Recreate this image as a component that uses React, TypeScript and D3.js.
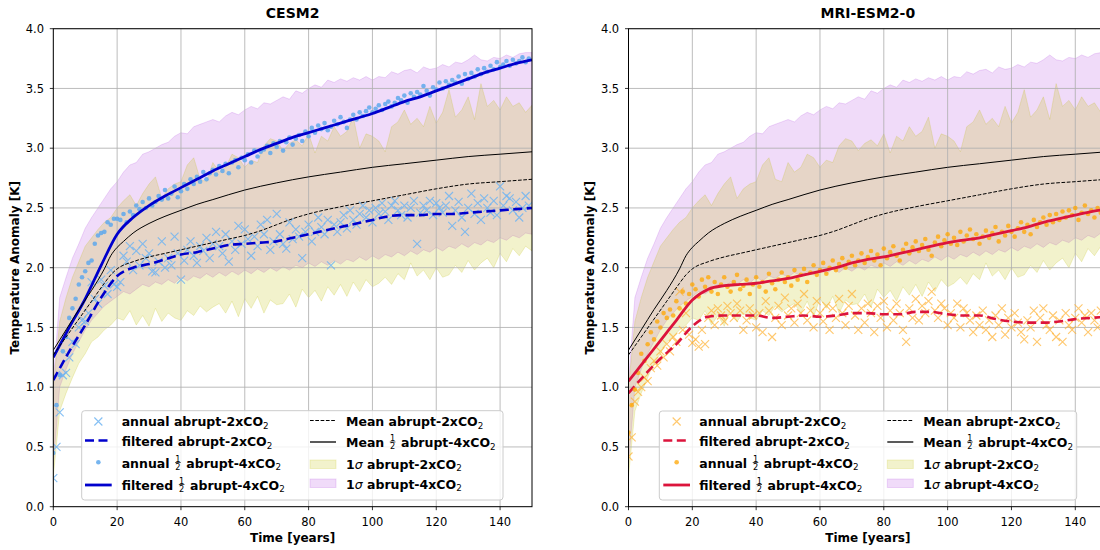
import React, { useEffect, useRef } from "react";
import * as d3 from "d3";

// ---------- time axes ----------
const annualYears = d3.range(0, 150);
const bandYears = d3.range(0, 151, 2);
const filterYears = d3.range(0, 151, 5);

// ---------- multi-model statistics (shared by both panels) ----------
const mean4xYears = [0, 4, 8, 12, 16, 18, 20, 22, 25, 30, 35, 40, 45, 50, 60, 70, 80, 90, 100, 110, 120, 130, 140, 150];
const mean4xValues = [1.31, 1.48, 1.65, 1.81, 1.99, 2.1, 2.17, 2.22, 2.29, 2.37, 2.43, 2.48, 2.53, 2.57, 2.65, 2.71, 2.76, 2.8, 2.84, 2.87, 2.9, 2.93, 2.95, 2.97];

const mean2xYears = [0, 4, 8, 12, 16, 18, 20, 25, 30, 35, 40, 45, 50, 55, 60, 65, 70, 75, 80, 90, 100, 110, 120, 130, 140, 150];
const mean2xValues = [1.27, 1.42, 1.57, 1.72, 1.87, 1.94, 1.99, 2.05, 2.09, 2.12, 2.15, 2.18, 2.21, 2.24, 2.27, 2.31, 2.36, 2.41, 2.45, 2.51, 2.56, 2.61, 2.66, 2.7, 2.72, 2.74];

const sigma4xUpper = [
  1.05, 1.75, 1.92, 2.08, 2.2, 2.33, 2.42, 2.5, 2.58, 2.66,
  2.72, 2.8, 2.86, 2.88, 2.95, 2.97, 3.0, 3.03, 3.05, 3.1,
  3.13, 3.12, 3.18, 3.2, 3.22, 3.24, 3.22, 3.27, 3.3, 3.28,
  3.32, 3.35, 3.33, 3.38, 3.37, 3.4, 3.43, 3.41, 3.48, 3.46,
  3.5, 3.53, 3.51, 3.57, 3.55, 3.58, 3.56, 3.59, 3.57, 3.6,
  3.57, 3.6, 3.59, 3.64, 3.62, 3.65, 3.66, 3.63, 3.68, 3.66,
  3.67, 3.7, 3.68, 3.72, 3.71, 3.74, 3.78, 3.74, 3.73, 3.76,
  3.75, 3.78, 3.76, 3.79, 3.8, 3.8,
];
const sigma4xLower = [
  0.35, 1.0, 1.15, 1.28, 1.38, 1.48, 1.56, 1.62, 1.68, 1.72,
  1.76, 1.8, 1.78, 1.82, 1.86, 1.84, 1.88, 1.86, 1.9, 1.87,
  1.92, 1.89, 1.93, 1.91, 1.95, 1.92, 1.96, 1.93, 1.97, 1.94,
  1.98, 1.95, 1.99, 1.96, 2.0, 1.97, 2.01, 1.98, 2.02, 2.0,
  2.04, 2.01, 2.05, 2.02, 2.06, 2.03, 2.07, 2.05, 2.09, 2.06,
  2.1, 2.07, 2.11, 2.09, 2.13, 2.1, 2.14, 2.11, 2.15, 2.13,
  2.17, 2.14, 2.18, 2.16, 2.2, 2.17, 2.21, 2.19, 2.23, 2.21,
  2.25, 2.23, 2.27, 2.25, 2.29, 2.28,
];
const sigma2xUpper = [
  1.0, 1.55, 1.75, 1.92, 2.05, 2.18, 2.25, 2.32, 2.38, 2.42,
  2.5, 2.56, 2.61, 2.52, 2.62, 2.7, 2.76, 2.58, 2.66, 2.7,
  2.72, 2.86, 2.92, 2.74, 2.72, 2.88, 2.8, 2.84, 2.95, 2.92,
  2.84, 2.9, 2.88, 3.02, 3.08, 3.06, 2.98, 3.04, 3.07, 3.02,
  3.12, 2.96, 3.1, 3.06, 3.18, 3.1, 3.14, 3.26, 3.0, 3.12,
  3.1, 3.06, 2.97, 3.18, 3.22, 3.32, 3.2, 3.25, 3.18, 3.35,
  3.21, 3.3, 3.49, 3.26, 3.32, 3.43, 3.24, 3.54, 3.35, 3.4,
  3.32, 3.43, 3.35, 3.38, 3.3, 3.36,
];
const sigma2xLower = [
  0.25, 0.8, 0.95, 1.08, 1.2, 1.28, 1.38, 1.42, 1.48, 1.52,
  1.58, 1.56, 1.64, 1.52, 1.6, 1.51, 1.66, 1.55, 1.62, 1.58,
  1.56, 1.64, 1.6, 1.68, 1.63, 1.67, 1.7, 1.62, 1.72, 1.59,
  1.74, 1.66, 1.76, 1.62, 1.73, 1.69, 1.7, 1.78, 1.67, 1.82,
  1.75, 1.81, 1.72, 1.84, 1.77, 1.86, 1.76, 1.88, 1.8, 1.9,
  1.84, 1.87, 1.92, 1.86, 1.95, 1.9, 2.04, 1.93, 1.98, 1.9,
  2.0, 1.92, 1.94, 2.02, 1.96, 2.06, 1.98, 2.04, 2.08, 2.0,
  2.12, 2.05, 2.16, 2.1, 2.18, 2.14,
];

// ---------- CESM2 ----------
const cesmFiltered4x = [1.25, 1.5, 1.74, 2.02, 2.28, 2.42, 2.52, 2.6, 2.67, 2.74, 2.81, 2.87, 2.93, 2.99, 3.04, 3.09, 3.13, 3.17, 3.21, 3.25, 3.29, 3.34, 3.39, 3.43, 3.48, 3.53, 3.58, 3.63, 3.67, 3.71, 3.74];
const cesmFiltered2x = [1.06, 1.3, 1.52, 1.75, 1.93, 2.0, 2.03, 2.07, 2.11, 2.13, 2.16, 2.19, 2.2, 2.21, 2.22, 2.25, 2.28, 2.31, 2.34, 2.37, 2.4, 2.43, 2.44, 2.44, 2.45, 2.45, 2.46, 2.47, 2.48, 2.49, 2.5];
const cesmAnnual4x = [
  0.45, 0.85, 1.1, 1.3, 1.42, 1.58, 1.66, 1.74, 1.86, 1.92,
  1.97, 2.04, 2.06, 2.2, 2.27, 2.29, 2.3, 2.38, 2.36, 2.41,
  2.41, 2.4, 2.45, 2.38, 2.47, 2.44, 2.52, 2.49, 2.55, 2.5,
  2.58, 2.52, 2.55, 2.6, 2.57, 2.65, 2.58, 2.62, 2.68, 2.59,
  2.64, 2.7, 2.66, 2.74, 2.7, 2.76, 2.72, 2.8, 2.74, 2.79,
  2.82, 2.78, 2.85, 2.81, 2.87, 2.79, 2.88, 2.9, 2.84, 2.92,
  2.9, 2.95, 2.88, 2.98, 2.93, 2.97, 2.99, 3.02, 2.96, 3.04,
  3.01, 3.06, 2.98, 3.05, 3.09, 3.03, 3.08, 3.11, 3.06, 3.14,
  3.1, 3.17, 3.13, 3.19, 3.16, 3.21, 3.15, 3.18, 3.23, 3.2,
  3.26, 3.22, 3.17, 3.24, 3.28, 3.24, 3.3, 3.27, 3.31, 3.34,
  3.3, 3.33, 3.36, 3.32, 3.37, 3.39, 3.35, 3.38, 3.42, 3.4,
  3.44, 3.38, 3.46, 3.43, 3.47, 3.45, 3.52, 3.48, 3.44, 3.51,
  3.49, 3.55, 3.5, 3.56, 3.53, 3.57, 3.55, 3.6, 3.54, 3.62,
  3.58, 3.63, 3.6, 3.66, 3.62, 3.67, 3.64, 3.69, 3.66, 3.72,
  3.68, 3.7, 3.73, 3.69, 3.74, 3.71, 3.73, 3.76, 3.72, 3.75,
];
const cesmAnnual2x = [
  0.24, 0.5, 0.79, 1.1, 1.12, 1.25, 1.38, 1.36, 1.5, 1.56,
  1.55, 1.62, 1.88, 1.74, 1.7, 1.9, 1.85, 1.78, 1.98, 1.86,
  1.84, 1.88, 2.1, 2.05, 2.18, 1.98, 2.14, 2.02, 2.2, 2.08,
  2.12, 1.97, 1.96, 2.05, 2.22, 2.0, 2.08, 2.02, 2.26, 2.12,
  1.9, 2.06, 2.15, 2.22, 2.1, 2.04, 2.18, 2.14, 2.25, 2.08,
  2.2, 2.3, 2.18, 2.12, 2.28, 2.05, 2.22, 2.15, 2.35, 2.2,
  2.32, 2.24, 2.1, 2.26, 2.18, 2.36, 2.28, 2.4, 2.15, 2.22,
  2.45, 2.28, 2.2, 2.16, 2.38, 2.24, 2.32, 2.26, 2.08, 2.3,
  2.36, 2.22, 2.3, 2.42, 2.34, 2.28, 2.4, 2.02, 2.36, 2.3,
  2.38, 2.44, 2.33, 2.48, 2.4, 2.36, 2.45, 2.52, 2.42, 2.48,
  2.38, 2.5, 2.45, 2.54, 2.47, 2.4, 2.52, 2.56, 2.48, 2.44,
  2.52, 2.42, 2.5, 2.56, 2.2, 2.46, 2.52, 2.48, 2.56, 2.44,
  2.54, 2.5, 2.46, 2.52, 2.6, 2.35, 2.48, 2.55, 2.42, 2.3,
  2.5, 2.62, 2.45, 2.54, 2.4, 2.58, 2.5, 2.46, 2.56, 2.44,
  2.68, 2.52, 2.6, 2.58, 2.48, 2.55, 2.42, 2.5, 2.6, 2.52,
];

// ---------- MRI-ESM2-0 ----------
const mriFiltered4x = [1.05, 1.22, 1.39, 1.56, 1.73, 1.82, 1.85, 1.86, 1.87, 1.89, 1.91, 1.94, 1.97, 2.0, 2.04, 2.07, 2.09, 2.12, 2.15, 2.18, 2.21, 2.23, 2.25, 2.28, 2.31, 2.34, 2.38, 2.41, 2.44, 2.47, 2.49];
const mriFiltered2x = [0.95, 1.1, 1.24, 1.36, 1.51, 1.59, 1.6, 1.6, 1.6, 1.58, 1.59, 1.6, 1.59, 1.6, 1.62, 1.62, 1.61, 1.61, 1.63, 1.63, 1.61, 1.6, 1.6, 1.57, 1.55, 1.54, 1.54, 1.55, 1.57, 1.58, 1.59];
const mriAnnual4x = [
  0.62, 0.85, 0.98, 1.12, 1.28, 1.22, 1.36, 1.46, 1.4, 1.55,
  1.5, 1.62, 1.58, 1.65, 1.6, 1.72, 1.66, 1.8, 1.7, 1.78,
  1.86, 1.82, 1.76, 1.9, 1.84, 1.92, 1.8, 1.88, 1.78, 1.86,
  1.92, 1.84, 1.8, 1.88, 1.94, 1.82, 1.85, 1.9, 1.78, 1.86,
  1.92, 1.84, 1.88, 1.8, 1.95, 1.87, 1.82, 1.9, 1.96, 1.88,
  1.92, 1.85, 1.98, 1.9, 1.94, 1.99, 1.88, 1.96, 2.02, 1.94,
  1.98, 2.04, 1.95, 2.0, 2.06, 1.98, 2.03, 2.08, 2.0, 2.05,
  2.1, 2.02, 2.06, 2.12, 2.04, 2.09, 2.14, 2.06, 2.11, 2.02,
  2.16, 2.08, 2.13, 2.18, 2.1, 2.06, 2.15, 2.2, 2.12, 2.17,
  2.22, 2.14, 2.19, 2.24, 2.15, 2.1, 2.21, 2.26, 2.18, 2.23,
  2.28, 2.2, 2.25, 2.19, 2.3, 2.22, 2.27, 2.32, 2.24, 2.28,
  2.2, 2.26, 2.31, 2.25, 2.29, 2.34, 2.22, 2.3, 2.27, 2.35,
  2.3, 2.26, 2.33, 2.38, 2.3, 2.36, 2.28, 2.4, 2.34, 2.38,
  2.42, 2.36, 2.44, 2.38, 2.45, 2.4, 2.47, 2.42, 2.48, 2.44,
  2.5, 2.4, 2.46, 2.52, 2.45, 2.48, 2.42, 2.5, 2.46, 2.52,
];
const mriAnnual2x = [
  0.42, 0.58, 0.88, 0.96, 1.0, 1.08, 1.05, 1.16, 1.22, 1.18,
  1.3, 1.25, 1.36, 1.3, 1.42, 1.38, 1.8, 1.48, 1.62, 1.44,
  1.37, 1.4, 1.34, 1.48, 1.36, 1.58, 1.64, 1.52, 1.66, 1.6,
  1.55, 1.68, 1.62, 1.58, 1.7, 1.64, 1.48, 1.56, 1.66, 1.6,
  1.5, 1.62, 1.46, 1.72, 1.64, 1.42, 1.58, 1.68, 1.52, 1.75,
  1.6, 1.66, 1.54, 1.7, 1.62, 1.78, 1.56, 1.64, 1.5, 1.72,
  1.62, 1.55, 1.68, 1.48, 1.66, 1.58, 1.74, 1.62, 1.52, 1.68,
  1.78, 1.6, 1.48, 1.66, 1.54, 1.7, 1.62, 1.46, 1.68, 1.58,
  1.72, 1.5, 1.64, 1.56, 1.7, 1.62, 1.48, 1.38, 1.66, 1.58,
  1.74, 1.56, 1.68, 1.62, 1.72, 1.8, 1.64, 1.58, 1.7, 1.66,
  1.52, 1.62, 1.58, 1.7, 1.5, 1.66, 1.62, 1.56, 1.46, 1.6,
  1.52, 1.64, 1.48, 1.56, 1.42, 1.6, 1.52, 1.66, 1.44, 1.58,
  1.5, 1.62, 1.54, 1.46, 1.4, 1.56, 1.5, 1.64, 1.38, 1.58,
  1.66, 1.52, 1.48, 1.6, 1.42, 1.56, 1.38, 1.62, 1.52, 1.48,
  1.58, 1.66, 1.54, 1.6, 1.46, 1.62, 1.56, 1.5, 1.64, 1.58,
];

// ---------- styling ----------
const PURPLE = "#9400d3";
const OLIVE = "#bfbf00";
const FONT = "'DejaVu Sans', sans-serif";

type Part = { k: "t" | "sub" | "frac" | "it"; s?: string };
const T = (s: string): Part => ({ k: "t", s });
const SUB = (s: string): Part => ({ k: "sub", s });
const FRAC: Part = { k: "frac" };
const IT = (s: string): Part => ({ k: "it", s });

const panels = [
  {
    title: "CESM2",
    x0: 53.3,
    lineColor: "#0000cd",
    pointColor: "#5ea8ec",
    pointOpacity: 0.85,
    crossColor: "#6fb4f2",
    crossOpacity: 0.85,
    annual2x: cesmAnnual2x,
    annual4x: cesmAnnual4x,
    filtered2x: cesmFiltered2x,
    filtered4x: cesmFiltered4x,
    legend: { box: [81.7, 410.7, 421.3, 89.3], c1: [85, 111.7, 121.7], c2: [310, 336, 346] },
  },
  {
    title: "MRI-ESM2-0",
    x0: 628.5,
    lineColor: "#dc143c",
    pointColor: "#ffa500",
    pointOpacity: 0.75,
    crossColor: "#ffb030",
    crossOpacity: 0.7,
    annual2x: mriAnnual2x,
    annual4x: mriAnnual4x,
    filtered2x: mriFiltered2x,
    filtered4x: mriFiltered4x,
    legend: { box: [659.3, 411, 417.4, 89], c1: [663.3, 690, 699.3], c2: [887.3, 913.3, 923.3] },
  },
];

const PLOT_W = 478.7;
const Y_TOP = 28.7;
const Y_BOT = 506.7;

function drawRich(g: any, x: number, baseline: number, parts: Part[], size: number) {
  let cx = x;
  const base = (sel: any) =>
    sel
      .attr("font-family", FONT)
      .attr("fill", "#000")
      .attr("xml:space", "preserve")
      .style("white-space", "pre");
  for (const p of parts) {
    if (p.k === "t") {
      const t = base(g.append("text")).attr("x", cx).attr("y", baseline).attr("font-size", size).attr("font-weight", "bold").text(p.s);
      cx += (t.node() as SVGTextElement).getComputedTextLength();
    } else if (p.k === "it") {
      const t = base(g.append("text")).attr("x", cx).attr("y", baseline).attr("font-size", size).attr("font-style", "italic").text(p.s);
      cx += (t.node() as SVGTextElement).getComputedTextLength();
    } else if (p.k === "sub") {
      const t = base(g.append("text")).attr("x", cx).attr("y", baseline + 2.6).attr("font-size", size * 0.7).text(p.s);
      cx += (t.node() as SVGTextElement).getComputedTextLength();
    } else {
      const fs = 8.2;
      const bar = baseline - 5;
      const w = 6;
      const mid = cx + 1 + w / 2;
      base(g.append("text")).attr("x", mid).attr("y", bar - 1).attr("font-size", fs).attr("text-anchor", "middle").text("1");
      base(g.append("text")).attr("x", mid).attr("y", bar + 7.3).attr("font-size", fs).attr("text-anchor", "middle").text("2");
      g.append("line").attr("x1", cx + 1.2).attr("x2", cx + 1 + w - 0.2).attr("y1", bar).attr("y2", bar).attr("stroke", "#000").attr("stroke-width", 0.7);
      cx += w + 2;
    }
  }
}

const CROSS = "M-4,-4L4,4M-4,4L4,-4";

export default function App() {
  const ref = useRef<SVGSVGElement>(null);

  useEffect(() => {
    const svg = d3.select(ref.current);
    svg.selectAll("*").remove();
    const defs = svg.append("defs");
    const y = d3.scaleLinear().domain([0, 4]).range([Y_BOT, Y_TOP]);

    panels.forEach((p, i) => {
      const x = d3.scaleLinear().domain([0, 150]).range([p.x0, p.x0 + PLOT_W]);
      const x1 = p.x0 + PLOT_W;
      const clipId = `plot-clip-${i}`;
      defs.append("clipPath").attr("id", clipId).append("rect").attr("x", p.x0).attr("y", Y_TOP).attr("width", PLOT_W).attr("height", Y_BOT - Y_TOP);

      const g = svg.append("g");
      const plot = g.append("g").attr("clip-path", `url(#${clipId})`);

      // 1-sigma bands
      const band = (lo: number[], hi: number[]) =>
        d3
          .area<number>()
          .x((t) => x(t))
          .y0((_, k) => y(lo[k]))
          .y1((_, k) => y(hi[k]))(bandYears);
      plot.append("path").attr("d", band(sigma4xLower, sigma4xUpper)).attr("fill", PURPLE).attr("fill-opacity", 0.14).attr("stroke", PURPLE).attr("stroke-opacity", 0.14).attr("stroke-width", 1);
      plot.append("path").attr("d", band(sigma2xLower, sigma2xUpper)).attr("fill", OLIVE).attr("fill-opacity", 0.2).attr("stroke", OLIVE).attr("stroke-opacity", 0.2).attr("stroke-width", 1);

      // grid
      const xt = x.ticks(8);
      const yt = y.ticks(8);
      plot.selectAll(".gx").data(xt).join("line").attr("x1", (d) => x(d)).attr("x2", (d) => x(d)).attr("y1", Y_TOP).attr("y2", Y_BOT).attr("stroke", "#b0b0b0").attr("stroke-width", 1).attr("stroke-opacity", 0.85);
      plot.selectAll(".gy").data(yt).join("line").attr("x1", p.x0).attr("x2", x1).attr("y1", (d) => y(d)).attr("y2", (d) => y(d)).attr("stroke", "#b0b0b0").attr("stroke-width", 1).attr("stroke-opacity", 0.85);

      const smooth = (years: number[], vals: number[]) =>
        d3
          .line<number>()
          .x((t) => x(t))
          .y((_, k) => y(vals[k]))
          .curve(d3.curveMonotoneX)(years);

      // annual 2xCO2 crosses
      plot.append("g").selectAll("path").data(p.annual2x).join("path")
        .attr("d", CROSS)
        .attr("transform", (v, k) => `translate(${x(annualYears[k])},${y(v)})`)
        .attr("stroke", p.crossColor).attr("stroke-opacity", p.crossOpacity).attr("stroke-width", 1.1).attr("fill", "none");

      // filtered 2xCO2
      plot.append("path").attr("d", smooth(filterYears, p.filtered2x)).attr("fill", "none").attr("stroke", p.lineColor).attr("stroke-width", 2.6).attr("stroke-dasharray", "9,4.5");

      // annual half 4xCO2 dots
      plot.append("g").selectAll("circle").data(p.annual4x).join("circle")
        .attr("cx", (_, k) => x(annualYears[k])).attr("cy", (v) => y(v)).attr("r", 2.3)
        .attr("fill", p.pointColor).attr("fill-opacity", p.pointOpacity);

      // filtered half 4xCO2
      plot.append("path").attr("d", smooth(filterYears, p.filtered4x)).attr("fill", "none").attr("stroke", p.lineColor).attr("stroke-width", 2.8);

      // multi-model means
      plot.append("path").attr("d", smooth(mean2xYears, mean2xValues)).attr("fill", "none").attr("stroke", "#000").attr("stroke-width", 1).attr("stroke-dasharray", "3.7,1.6");
      plot.append("path").attr("d", smooth(mean4xYears, mean4xValues)).attr("fill", "none").attr("stroke", "#000").attr("stroke-width", 1);

      // frame
      g.append("rect").attr("x", p.x0).attr("y", Y_TOP).attr("width", PLOT_W).attr("height", Y_BOT - Y_TOP).attr("fill", "none").attr("stroke", "#000").attr("stroke-width", 1);

      // ticks
      g.selectAll(".tx").data(xt).join("line").attr("x1", (d) => x(d)).attr("x2", (d) => x(d)).attr("y1", Y_BOT).attr("y2", Y_BOT + 3.5).attr("stroke", "#000").attr("stroke-width", 0.8);
      g.selectAll(".lx").data(xt).join("text").attr("x", (d) => x(d)).attr("y", Y_BOT + 18.8).attr("text-anchor", "middle").attr("font-family", FONT).attr("font-size", 11.5).attr("fill", "#000").text((d) => String(d));
      g.selectAll(".ty").data(yt).join("line").attr("x1", p.x0 - 3.5).attr("x2", p.x0).attr("y1", (d) => y(d)).attr("y2", (d) => y(d)).attr("stroke", "#000").attr("stroke-width", 0.8);
      g.selectAll(".ly").data(yt).join("text").attr("x", p.x0 - 9.3).attr("y", (d) => y(d) + 4.1).attr("text-anchor", "end").attr("font-family", FONT).attr("font-size", 11.5).attr("fill", "#000").text((d) => d.toFixed(1));

      // titles and axis labels
      const cxAxis = p.x0 + PLOT_W / 2;
      g.append("text").attr("x", cxAxis).attr("y", 17.5).attr("text-anchor", "middle").attr("font-family", FONT).attr("font-size", 14).attr("font-weight", "bold").text(p.title);
      g.append("text").attr("x", cxAxis).attr("y", 542).attr("text-anchor", "middle").attr("font-family", FONT).attr("font-size", 12).attr("font-weight", "bold").text("Time [years]");
      g.append("text")
        .attr("transform", `translate(${p.x0 - 34.8},${(Y_TOP + Y_BOT) / 2}) rotate(-90)`)
        .attr("text-anchor", "middle").attr("font-family", FONT).attr("font-size", 12).attr("font-weight", "bold")
        .text("Temperature Anomaly [K]");

      // legend
      const L = p.legend;
      const lg = g.append("g");
      lg.append("rect").attr("x", L.box[0]).attr("y", L.box[1]).attr("width", L.box[2]).attr("height", L.box[3]).attr("rx", 3)
        .attr("fill", "#fff").attr("fill-opacity", 0.8).attr("stroke", "#cccccc").attr("stroke-width", 1);
      const [a0, a1, at] = L.c1;
      const am = (a0 + a1) / 2;
      lg.append("path").attr("d", CROSS).attr("transform", `translate(${am},421.5)`).attr("stroke", p.crossColor).attr("stroke-opacity", p.crossOpacity).attr("stroke-width", 1.1).attr("fill", "none");
      lg.append("line").attr("x1", a0).attr("x2", a1).attr("y1", 440.5).attr("y2", 440.5).attr("stroke", p.lineColor).attr("stroke-width", 2.6).attr("stroke-dasharray", "9,4.5");
      lg.append("circle").attr("cx", am).attr("cy", 462.3).attr("r", 2.3).attr("fill", p.pointColor).attr("fill-opacity", p.pointOpacity);
      lg.append("line").attr("x1", a0).attr("x2", a1).attr("y1", 485).attr("y2", 485).attr("stroke", p.lineColor).attr("stroke-width", 2.8);
      const fs = 12.5;
      drawRich(lg, at, 426, [T("annual abrupt-2xCO"), SUB("2")], fs);
      drawRich(lg, at, 446, [T("filtered abrupt-2xCO"), SUB("2")], fs);
      drawRich(lg, at, 467.5, [T("annual "), FRAC, T(" abrupt-4xCO"), SUB("2")], fs);
      drawRich(lg, at, 489.5, [T("filtered "), FRAC, T(" abrupt-4xCO"), SUB("2")], fs);

      const [b0, b1, bt] = L.c2;
      lg.append("line").attr("x1", b0).attr("x2", b1).attr("y1", 420.5).attr("y2", 420.5).attr("stroke", "#000").attr("stroke-width", 1).attr("stroke-dasharray", "3.7,1.6");
      lg.append("line").attr("x1", b0).attr("x2", b1).attr("y1", 442).attr("y2", 442).attr("stroke", "#000").attr("stroke-width", 1.3);
      lg.append("rect").attr("x", b0).attr("y", 460).attr("width", b1 - b0).attr("height", 8.5).attr("fill", OLIVE).attr("fill-opacity", 0.2).attr("stroke", OLIVE).attr("stroke-opacity", 0.2);
      lg.append("rect").attr("x", b0).attr("y", 479).attr("width", b1 - b0).attr("height", 8.5).attr("fill", PURPLE).attr("fill-opacity", 0.14).attr("stroke", PURPLE).attr("stroke-opacity", 0.14);
      drawRich(lg, bt, 426, [T("Mean abrupt-2xCO"), SUB("2")], fs);
      drawRich(lg, bt, 447, [T("Mean "), FRAC, T(" abrupt-4xCO"), SUB("2")], fs);
      drawRich(lg, bt, 468.5, [T("1"), IT("σ"), T(" abrupt-2xCO"), SUB("2")], fs);
      drawRich(lg, bt, 488.5, [T("1"), IT("σ"), T(" abrupt-4xCO"), SUB("2")], fs);
    });
  }, []);

  return (
    <svg
      ref={ref}
      width={1100}
      height={550}
      style={{ position: "absolute", left: 0, top: 0, display: "block", background: "#fff" }}
    />
  );
}
